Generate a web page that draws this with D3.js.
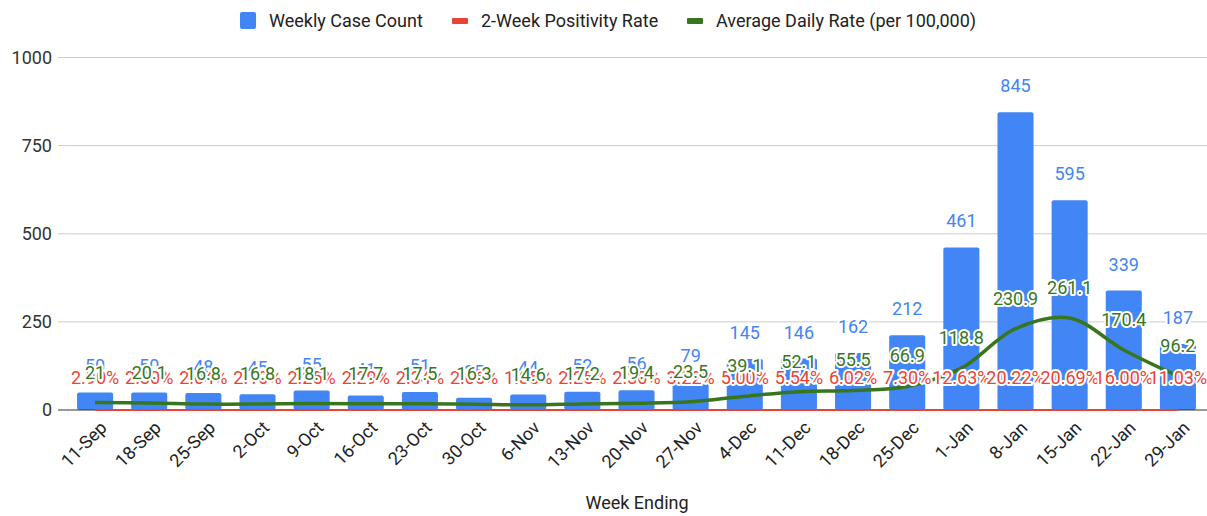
<!DOCTYPE html>
<meta charset="utf-8">
<script src="https://d3js.org/d3.v7.min.js"></script>
<style>
  body { margin: 0; background: #fff; }
  text { font-family: Roboto, "Noto Sans", sans-serif; }
</style>
<div id="chart"></div>
<script>

// week ending dates
var weeks = ["11-Sep","18-Sep","25-Sep","2-Oct","9-Oct","16-Oct","23-Oct","30-Oct","6-Nov","13-Nov","20-Nov",
             "27-Nov","4-Dec","11-Dec","18-Dec","25-Dec","1-Jan","8-Jan","15-Jan","22-Jan","29-Jan"];

// weekly case count
var cases = [50, 50, 48, 45, 55, 41, 51, 35, 44, 52, 56, 79, 145, 146, 162, 212, 461, 845, 595, 339, 187];

// 2-week positivity rate (fraction)
var positivity = [0.0290, 0.0230, 0.0204, 0.0210, 0.0225, 0.0229, 0.0234, 0.0206, 0.0185, 0.0225, 0.0230,
                  0.0322, 0.0500, 0.0554, 0.0602, 0.0730, 0.1263, 0.2022, 0.2069, 0.1600, 0.1103];

// average daily rate per 100,000
var dailyRate = [21, 20.1, 16.8, 16.8, 18.1, 17.7, 17.5, 16.3, 14.6, 17.2, 19.4,
                 23.5, 39.1, 52.1, 55.5, 66.9, 118.8, 230.9, 261.1, 170.4, 96.2];

var yTicks = [0, 250, 500, 750, 1000];

var W = 1207, H = 516;
var blue = "#4285f4", red = "#ea4335", green = "#38761d";
var fs = "18px";

var svg = d3.select("#chart").append("svg")
    .attr("width", W)
    .attr("height", H);

var x = d3.scaleBand()
    .domain(weeks)
    .range([68, 1205])
    .paddingInner(0.334)
    .paddingOuter(0.167);

var y = d3.scaleLinear()
    .domain([0, 1000])
    .range([410, 57.5]);

function cx(i) { return x(weeks[i]) + x.bandwidth() / 2; }

// gridlines
svg.append("g").selectAll("line")
  .data(yTicks.filter(function(d){ return d > 0; }))
  .enter().append("line")
    .attr("x1", 58).attr("x2", W)
    .attr("y1", function(d){ return y(d); })
    .attr("y2", function(d){ return y(d); })
    .attr("stroke", "#cccccc")
    .attr("stroke-width", 1);

// y tick labels
svg.append("g").selectAll("text")
  .data(yTicks)
  .enter().append("text")
    .attr("x", 52)
    .attr("y", function(d){ return y(d); })
    .attr("dy", "0.35em")
    .attr("text-anchor", "end")
    .attr("fill", "#333")
    .style("font-size", fs)
    .text(function(d){ return d; });

// bars
svg.append("g").selectAll("rect")
  .data(cases)
  .enter().append("rect")
    .attr("x", function(d, i){ return x(weeks[i]); })
    .attr("width", x.bandwidth())
    .attr("y", function(d){ return y(d); })
    .attr("height", function(d){ return y(0) - y(d); })
    .attr("rx", 2)
    .attr("fill", blue);

// baseline
svg.append("line")
    .attr("x1", 58).attr("x2", W)
    .attr("y1", y(0)).attr("y2", y(0))
    .attr("stroke", "#333").attr("stroke-width", 1);

// positivity line (same axis, sits on zero)
svg.append("path")
    .datum(positivity)
    .attr("d", d3.line()
      .x(function(d, i){ return cx(i); })
      .y(function(d){ return y(d); }))
    .attr("fill", "none")
    .attr("stroke", red)
    .attr("stroke-width", 2);

// daily rate line
svg.append("path")
    .datum(dailyRate)
    .attr("d", d3.line()
      .curve(d3.curveCatmullRom.alpha(0.5))
      .x(function(d, i){ return cx(i); })
      .y(function(d){ return y(d); }))
    .attr("fill", "none")
    .attr("stroke", green)
    .attr("stroke-width", 3.5);

// data labels with white halo
function labels(data, color, off, fmt) {
  svg.append("g").selectAll("text")
    .data(data)
    .enter().append("text")
      .attr("x", function(d, i){ return cx(i); })
      .attr("y", function(d){ return y(d) - off; })
      .attr("text-anchor", "middle")
      .attr("fill", color)
      .attr("stroke", "#fff")
      .attr("stroke-width", 4)
      .attr("stroke-linejoin", "round")
      .style("paint-order", "stroke")
      .style("font-size", fs)
      .text(fmt);
}
labels(cases, blue, 20, function(d){ return d; });
labels(positivity, red, 26, function(d){ return (d * 100).toFixed(2) + "%"; });
labels(dailyRate, green, 24, function(d){ return d; });

// x tick labels
svg.append("g").selectAll("text")
  .data(weeks)
  .enter().append("text")
    .attr("transform", function(d){ return "translate(" + (x(d) + x.bandwidth() / 2 + 4) + ",420) rotate(-45)"; })
    .attr("dy", "0.7em")
    .attr("text-anchor", "end")
    .attr("fill", "#222")
    .style("font-size", fs)
    .text(function(d){ return d; });

// axis title
svg.append("text")
    .attr("x", 637).attr("y", 509)
    .attr("text-anchor", "middle")
    .attr("fill", "#222")
    .style("font-size", fs)
    .text("Week Ending");

// legend
var legend = [
  {name: "Weekly Case Count", color: blue, x: 240, box: true},
  {name: "2-Week Positivity Rate", color: red, x: 452, box: false},
  {name: "Average Daily Rate (per 100,000)", color: green, x: 687, box: false}
];
var lg = svg.append("g").selectAll("g")
  .data(legend)
  .enter().append("g")
    .attr("transform", function(d){ return "translate(" + d.x + ",0)"; });
lg.append("rect")
    .attr("x", 0)
    .attr("y", function(d){ return d.box ? 12 : 18; })
    .attr("width", 16)
    .attr("height", function(d){ return d.box ? 17 : 6; })
    .attr("rx", function(d){ return d.box ? 2 : 1; })
    .attr("fill", function(d){ return d.color; });
lg.append("text")
    .attr("x", 29)
    .attr("y", 20.5)
    .attr("dy", "0.35em")
    .attr("fill", "#222")
    .style("font-size", fs)
    .text(function(d){ return d.name; });

</script>
